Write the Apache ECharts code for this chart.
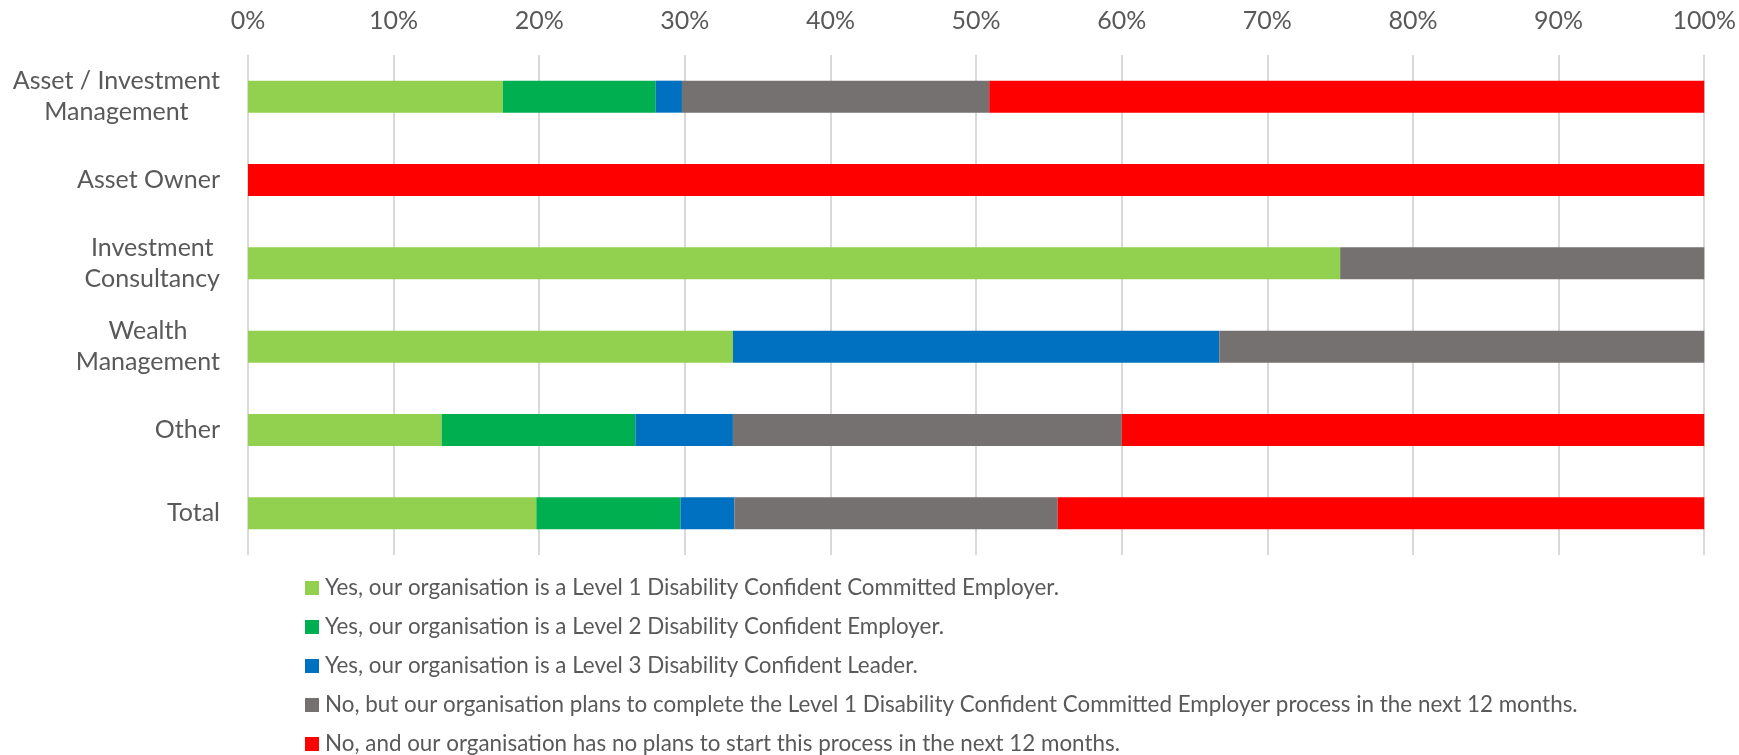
<!DOCTYPE html>
<html>
<head>
<meta charset="utf-8">
<title>Disability Confident status by organisation type</title>
<script src="https://cdn.jsdelivr.net/npm/echarts@6/dist/echarts.min.js"></script>
<style>
  html, body { margin: 0; padding: 0; background: #ffffff; }
  #chart { width: 1739px; height: 755px; }
</style>
</head>
<body>
<div id="chart"></div>
<script>
// Organisation types (top to bottom)
const categories = [
  'Asset / Investment\nManagement',
  'Asset Owner',
  'Investment\nConsultancy',
  'Wealth\nManagement',
  'Other',
  'Total'
];

// Share of respondents (%) per answer, one value per organisation type
const level1Committed = [17.5, 0, 75, 33.3, 13.3, 19.8];
const level2Employer  = [10.5, 0, 0, 0, 13.3, 9.9];
const level3Leader    = [1.8, 0, 0, 33.4, 6.7, 3.7];
const planningLevel1  = [21.1, 0, 25, 33.3, 26.7, 22.2];
const noPlans         = [49.1, 100, 0, 0, 40, 44.4];

const seriesNames = [
  'Yes, our organisation is a Level 1 Disability Confident Committed Employer.',
  'Yes, our organisation is a Level 2 Disability Confident Employer.',
  'Yes, our organisation is a Level 3 Disability Confident Leader.',
  'No, but our organisation plans to complete the Level 1 Disability Confident Committed Employer process in the next 12 months.',
  'No, and our organisation has no plans to start this process in the next 12 months.'
];
const seriesValues = [level1Committed, level2Employer, level3Leader, planningLevel1, noPlans];
const seriesColors = ['#92D050', '#00B050', '#0070C0', '#767171', '#FF0000'];

const FONT = 'Lato';
const TEXT = '#595959';

const chart = echarts.init(document.getElementById('chart'), null, { renderer: 'canvas' });

chart.setOption({
  animation: false,
  backgroundColor: '#ffffff',
  textStyle: { fontFamily: FONT, color: TEXT },
  grid: { left: 248, right: 34, top: 55, height: 500, containLabel: false },
  xAxis: {
    type: 'value',
    position: 'top',
    min: 0,
    max: 100,
    interval: 10,
    axisLine: { show: false },
    axisTick: { show: false },
    axisLabel: {
      formatter: v => v + '%',
      fontFamily: FONT,
      fontSize: 25,
      color: TEXT,
      margin: 22
    },
    splitLine: { show: true, lineStyle: { color: '#d9d9d9', width: 2 } }
  },
  yAxis: {
    type: 'category',
    inverse: true,
    data: categories,
    axisLine: { show: false },
    axisTick: { show: false },
    splitLine: { show: false },
    axisLabel: {
      margin: 28,
      align: 'right',
      formatter: v => '{c|' + v + '}',
      rich: {
        c: { align: 'center', fontFamily: FONT, fontSize: 25, lineHeight: 31, color: TEXT }
      }
    }
  },
  legend: {
    orient: 'vertical',
    left: 305,
    top: 576,
    height: 220,
    padding: 0,
    itemWidth: 14,
    itemHeight: 14,
    itemGap: 15,
    icon: 'rect',
    selectedMode: false,
    textStyle: { fontFamily: FONT, fontSize: 22.4, lineHeight: 24, color: TEXT, padding: [0, 0, 0, 1] },
    data: seriesNames
  },
  series: seriesNames.map((name, i) => ({
    name: name,
    type: 'bar',
    stack: 'share',
    barWidth: 32,
    itemStyle: { color: seriesColors[i] },
    emphasis: { disabled: true },
    data: seriesValues[i]
  }))
});
</script>
</body>
</html>
